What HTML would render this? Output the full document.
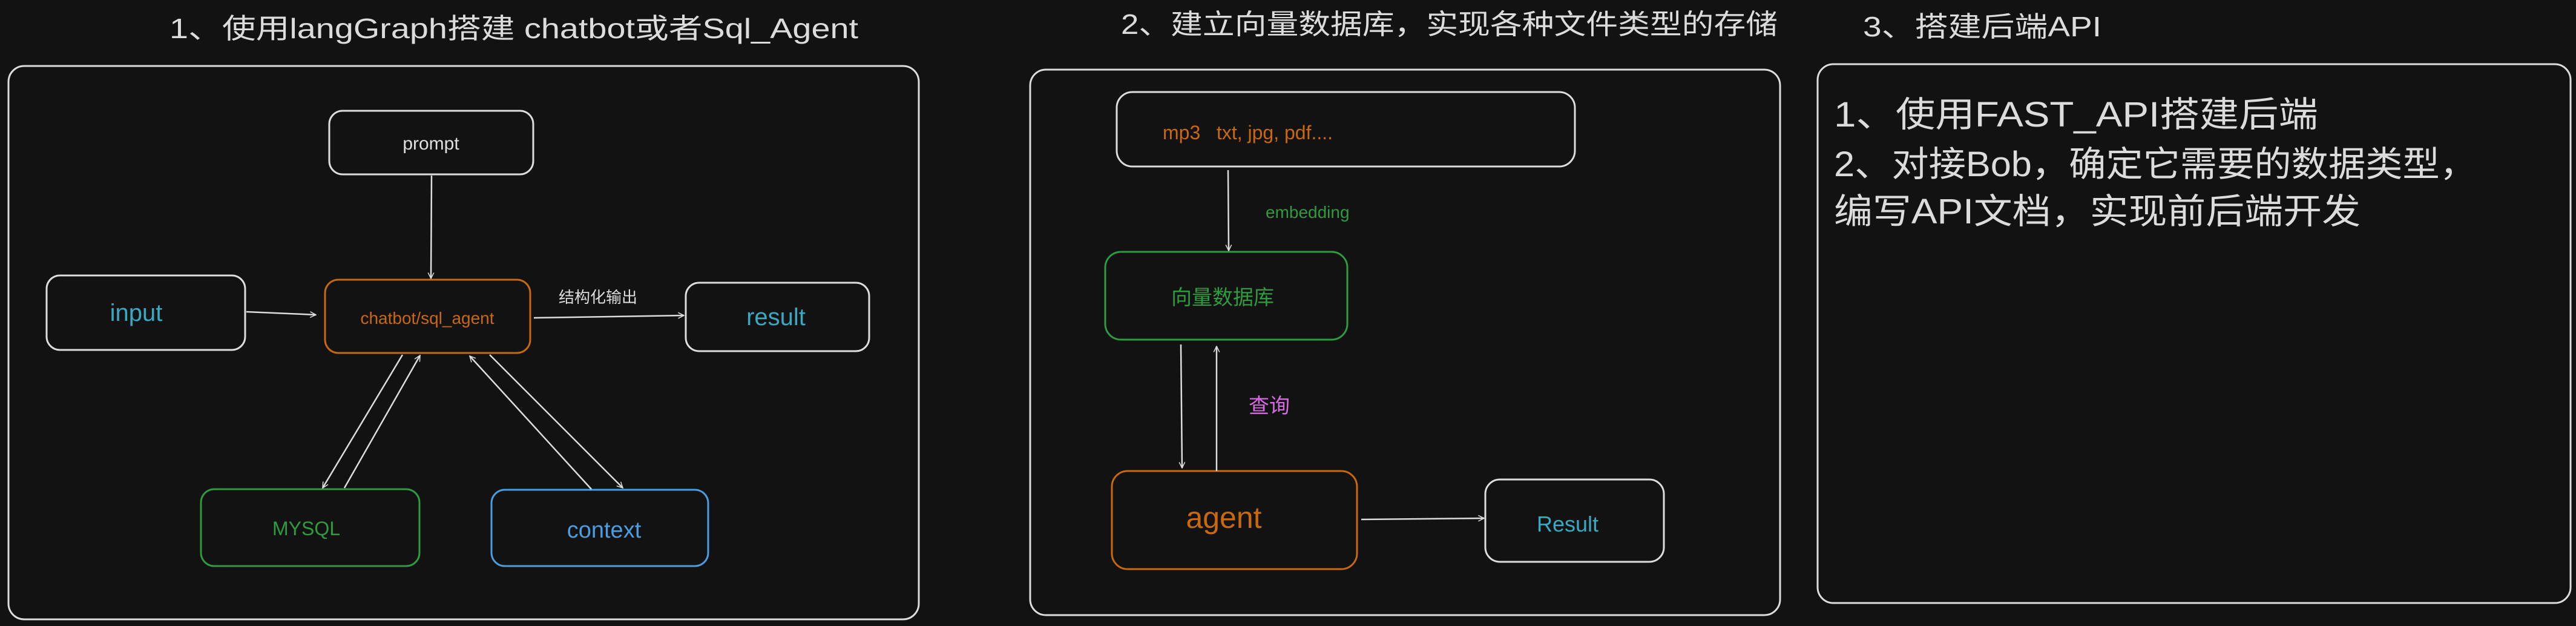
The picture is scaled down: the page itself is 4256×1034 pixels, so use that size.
<!DOCTYPE html>
<html><head><meta charset="utf-8"><style>
html,body{margin:0;padding:0;background:#121212;}
svg{display:block;}
text{font-family:"Liberation Sans","Noto Sans CJK SC",sans-serif;}
</style></head><body>
<svg width="4256" height="1034" viewBox="0 0 4256 1034" xmlns="http://www.w3.org/2000/svg">
<defs>
<marker id="ah" viewBox="0 0 20 20" refX="18" refY="10" markerWidth="12" markerHeight="12" markerUnits="userSpaceOnUse" orient="auto">
<path d="M2,2 L18,10 L2,18" fill="none" stroke="#ddd" stroke-width="2.5"/>
</marker>
</defs>
<rect width="4256" height="1034" fill="#121212"/>
<g fill="none" stroke-width="3">
<rect x="14" y="109" width="1504" height="914" rx="26" stroke="#ddd"/>
<rect x="544" y="183" width="337" height="105" rx="22" stroke="#ddd"/>
<rect x="77" y="455" width="328" height="123" rx="22" stroke="#ddd"/>
<rect x="537" y="462" width="339" height="121" rx="22" stroke="#c8680f"/>
<rect x="1133" y="467" width="303" height="113" rx="22" stroke="#ddd"/>
<rect x="332" y="808" width="361" height="127" rx="22" stroke="#2f9a3f"/>
<rect x="812" y="809" width="358" height="126" rx="22" stroke="#4a9de0"/>
<rect x="1702" y="115" width="1239" height="901" rx="26" stroke="#ddd"/>
<rect x="1845" y="152" width="757" height="123" rx="26" stroke="#ddd"/>
<rect x="1826" y="416" width="400" height="145" rx="26" stroke="#2f9a3f"/>
<rect x="1837" y="778" width="405" height="162" rx="26" stroke="#c8680f"/>
<rect x="2454" y="792" width="295" height="136" rx="24" stroke="#ddd"/>
<rect x="3003" y="106" width="1244" height="890" rx="26" stroke="#ddd"/>
</g>
<g stroke="#ddd" stroke-width="2.5" fill="none" marker-end="url(#ah)">
<line x1="713" y1="290" x2="712" y2="460"/>
<line x1="407" y1="515" x2="522" y2="520"/>
<line x1="882" y1="525" x2="1130" y2="521"/>
<line x1="665" y1="586" x2="533" y2="806"/>
<line x1="569" y1="806" x2="694" y2="587"/>
<line x1="977" y1="808" x2="776" y2="588"/>
<line x1="809" y1="586" x2="1029" y2="806"/>
<line x1="2029" y1="281" x2="2030" y2="414"/>
<line x1="1951" y1="569" x2="1953" y2="773"/>
<line x1="2010" y1="778" x2="2010" y2="572"/>
<line x1="2249" y1="858" x2="2452" y2="856"/>
</g>
<g font-size="46" fill="#dcdcdc" lengthAdjust="spacingAndGlyphs">
<text x="280" y="63" textLength="1138" lengthAdjust="spacingAndGlyphs">1、使用langGraph搭建 chatbot或者Sql_Agent</text>
<text x="1852" y="56" textLength="1085" lengthAdjust="spacingAndGlyphs">2、建立向量数据库，实现各种文件类型的存储</text>
<text x="3078" y="60" textLength="394" lengthAdjust="spacingAndGlyphs">3、搭建后端API</text>
</g>
<g text-anchor="middle">
<text x="712" y="247" font-size="30" fill="#e0e0e0">prompt</text>
<text x="225" y="530" font-size="40" fill="#3aa8c1">input</text>
<text x="706" y="535" font-size="28" fill="#c8680f">chatbot/sql_agent</text>
<text x="1282" y="537" font-size="40" fill="#3aa8c1">result</text>
<text x="506" y="884" font-size="32" fill="#2f9a3f">MYSQL</text>
<text x="998" y="888" font-size="38" fill="#4a9de0">context</text>
<text x="2020" y="503" font-size="34" fill="#2f9a3f">向量数据库</text>
<text x="2022" y="872" font-size="50" fill="#c8680f">agent</text>
<text x="2590" y="878" font-size="36" fill="#3aa8c1">Result</text>
</g>
<text x="923" y="500" font-size="26" fill="#dcdcdc">结构化输出</text>
<text x="1921" y="230" font-size="32" fill="#c8680f" xml:space="preserve">mp3   txt, jpg, pdf....</text>
<text x="2091" y="360" font-size="28" fill="#2f9a3f">embedding</text>
<text x="2063" y="682" font-size="34" fill="#d56be0">查询</text>
<g font-size="58" fill="#dcdcdc">
<text x="3030" y="209" textLength="800" lengthAdjust="spacingAndGlyphs">1、使用FAST_API搭建后端</text>
<text x="3030" y="291" textLength="1062" lengthAdjust="spacingAndGlyphs">2、对接Bob，确定它需要的数据类型，</text>
<text x="3030" y="369" textLength="870" lengthAdjust="spacingAndGlyphs">编写API文档，实现前后端开发</text>
</g>
</svg>
</body></html>
